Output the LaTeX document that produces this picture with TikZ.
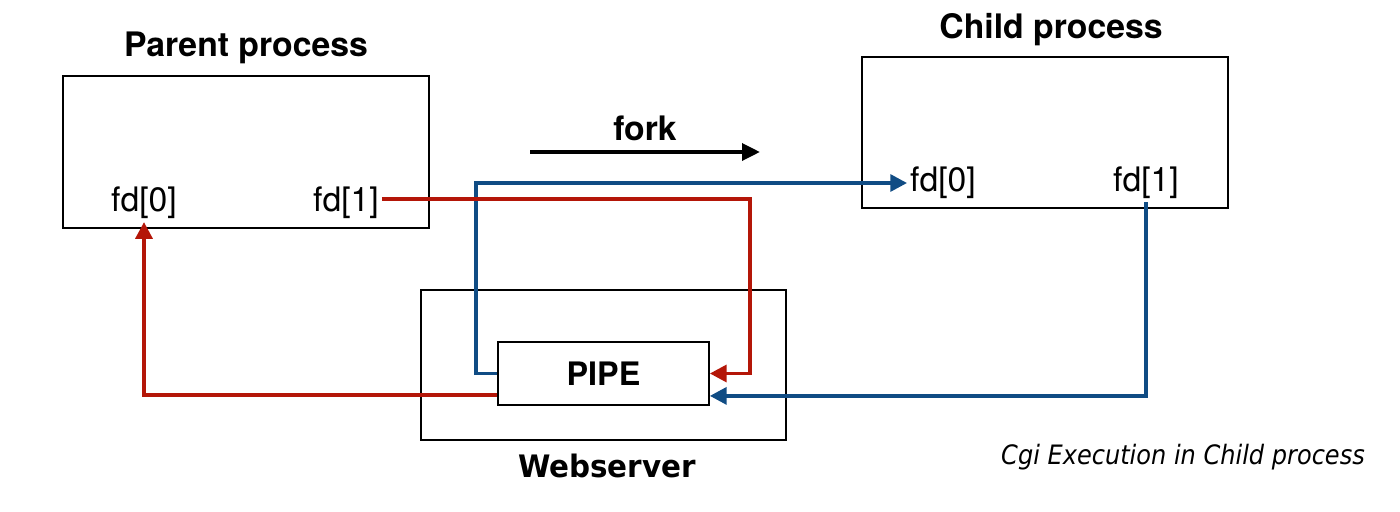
\documentclass[tikz,border=0pt]{standalone}
\usepackage{fontspec}
\setmainfont{TeX Gyre Heros}
\newfontfamily\capfont[FakeStretch=0.9]{DejaVu Sans}
\newfontfamily\webfont[FakeStretch=0.95]{DejaVu Sans}
\usepackage{tikz}
\usetikzlibrary{arrows.meta}
\usetikzlibrary{calc}
\definecolor{pipered}{RGB}{180,22,8}
\definecolor{pipeblue}{RGB}{16,76,132}
\tikzset{
  procbox/.style={draw, line width=1.1pt, minimum width=9.15cm, minimum height=3.8cm},
  fdlabel/.style={font=\fontsize{24}{28}\selectfont, inner sep=2pt},
  title/.style={font=\bfseries\fontsize{24}{28}\selectfont},
  redline/.style={pipered, line width=2.7pt, -{Triangle[length=0.42cm,width=0.42cm]}},
  blueline/.style={pipeblue, line width=2.7pt, -{Triangle[length=0.42cm,width=0.42cm]}}
}

\begin{document}
\begin{tikzpicture}[line join=miter,x=0.025cm,y=-0.025cm]
\useasboundingbox (0,0) rectangle (1400,512);
% boxes
\node [procbox] (parent) at (246,152) {};
\node [procbox, minimum height=3.775cm] (child) at (1045,132.5) {};
\node [procbox, minimum width=9.125cm, minimum height=3.75cm] (web) at (603.5,365) {};
\node [draw, fill=white, line width=1.1pt, minimum width=5.275cm, minimum height=1.575cm,
       font=\bfseries\fontsize{23}{27}\selectfont] (pipe) at (603.5,373.5) {PIPE};
% titles
\node [title] (ptitle) at (246,48) {Parent process};
\node [title] (ctitle) at (1051,30) {Child process};
\node [font=\webfont\bfseries\fontsize{22}{26}\selectfont] (wtitle) at (607,466) {Webserver};
\node [font=\capfont\itshape\fontsize{19}{23}\selectfont] (caption) at (1183,457) {Cgi Execution in Child process};
% descriptors
\node [fdlabel] (pfd0) at (144,203) {fd[0]};
\node [fdlabel] (pfd1) at (346,203) {fd[1]};
\node [fdlabel] (cfd0) at (943,183) {fd[0]};
\node [fdlabel] (cfd1) at (1146,183) {fd[1]};
% fork
\coordinate (forkL) at (530,152);
\coordinate (forkR) at (760,152);
\node [title] (fork) at (645,128) {fork};
\draw [line width=2.8pt, -{Triangle[length=0.45cm,width=0.42cm]}] (forkL) -- (forkR);
% pipe connections
\draw [blueline] (pipe.west) -- ++(-21,0) |- (cfd0.west);
\draw [redline] ([yshift=0.1cm]pfd1.east) -| ([xshift=1cm]pipe.east) -- (pipe.east);
\draw [redline] ([yshift=-0.53cm]pipe.west) -| (pfd0.south);
\draw [blueline] (cfd1.south) |- ([yshift=-0.56cm]pipe.east);
\end{tikzpicture}
\end{document}
